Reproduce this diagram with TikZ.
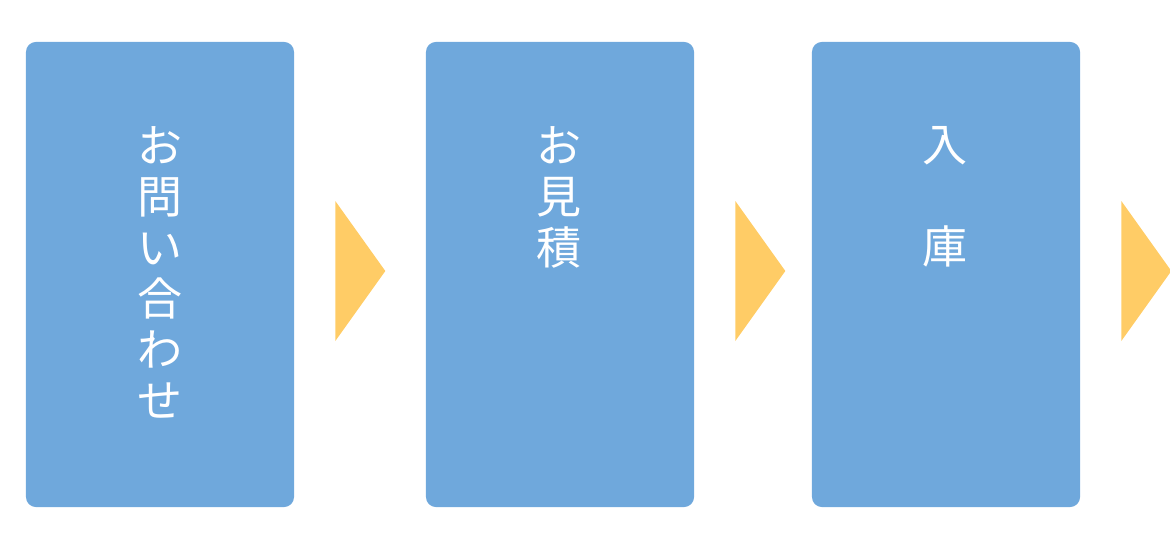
\documentclass[tikz,border=0pt]{standalone}
\usepackage{fontspec}
\usepackage{tikz}
\newfontfamily\jpfont{Noto Sans CJK JP}
\definecolor{boxblue}{HTML}{6FA8DC}
\definecolor{markeryellow}{HTML}{FFCC66}

\begin{document}
\begin{tikzpicture}[
            x=0.025cm, y=-0.025cm,
            stepbox/.style={fill=boxblue, draw=none, rounded corners=0.25cm,
                minimum width=6.7cm, minimum height=11.625cm, inner sep=0},
            steplabel/.style={align=center, color=white, anchor=north, inner sep=0,
                font=\jpfont\fontsize{32pt}{36.3pt}\selectfont},
            marker/.style={fill=markeryellow, draw=none}
        ]
            \useasboundingbox (0, 0) rectangle (1170, 540);

            % steps
            \node[stepbox] (inquiry) at (160, 274.5) {};
            \node[stepbox] (estimate) at (560, 274.5) {};
            \node[stepbox] (receipt) at (946, 274.5) {};

            % labels (top of each step)
            \node[steplabel] (inquirytext) at (160, 126) {お\\問\\い\\合\\わ\\せ};
            \node[steplabel] (estimatetext) at (559, 126) {お\\見\\積};
            \node[steplabel] (receipttext) at (945, 126) {入\\~\\庫};

            % arrow markers (right of each step)
            \foreach \b in {inquiry, estimate, receipt}{
                \fill[marker] (\b.east) ++(41, -73.5) -- ++(50, 70) -- ++(-50, 70) -- cycle;
            }

        \end{tikzpicture}
\end{document}
